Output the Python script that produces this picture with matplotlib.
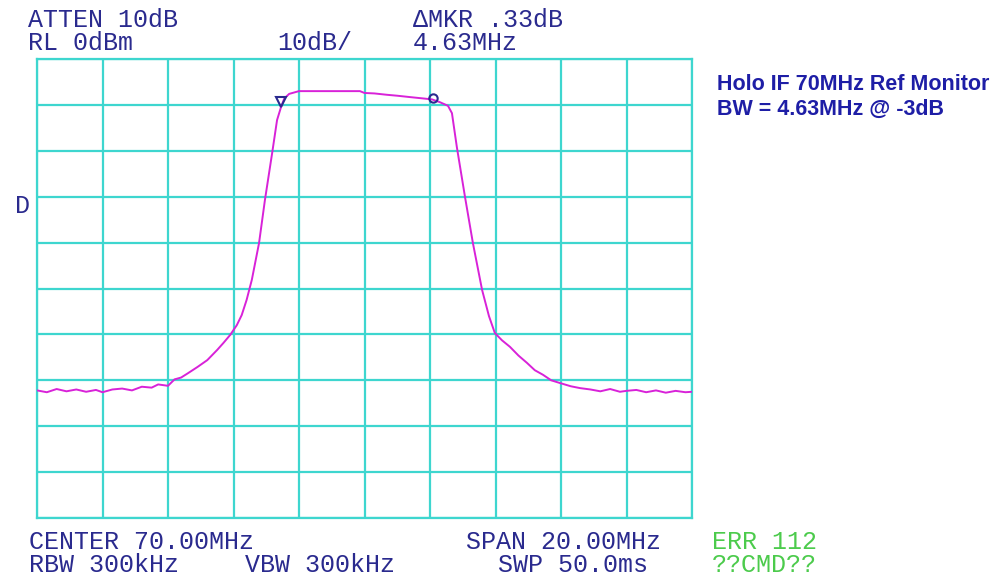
import matplotlib.pyplot as plt

# czestotliwosc [MHz] i poziom [dBm]
freq_MHz = [60.0, 60.3, 60.6, 60.9, 61.2, 61.5, 61.8, 62.0, 62.3, 62.6, 62.9, 63.2, 63.5, 63.7,
            64.0, 64.2, 64.4, 64.6, 64.9, 65.2, 65.5, 65.7, 65.9, 66.1, 66.25, 66.4, 66.56, 66.78,
            66.96, 67.18, 67.33, 67.45, 67.55, 67.7, 68.0, 69.0, 69.86, 70.0, 70.3, 70.69, 71.0,
            71.39, 71.8, 72.06, 72.3, 72.55, 72.67, 72.82, 73.07, 73.31, 73.59, 73.8, 73.98, 74.2,
            74.44, 74.7, 74.96, 75.2, 75.45, 75.7, 75.97, 76.3, 76.58, 76.9, 77.2, 77.5, 77.8,
            78.0, 78.3, 78.6, 78.9, 79.2, 79.5, 79.8, 80.0]
level_dBm = [-72.2, -72.6, -71.9, -72.4, -72.0, -72.5, -72.1, -72.6, -72.0, -71.8, -72.2, -71.4,
             -71.6, -70.9, -71.2, -69.8, -69.4, -68.5, -67.1, -65.6, -63.4, -61.8, -60.1, -58.0,
             -55.8, -52.5, -48.1, -40.1, -30.7, -20.5, -13.3, -10.5, -8.6, -7.6, -7.0, -7.0, -7.0,
             -7.4, -7.5, -7.8, -8.0, -8.3, -8.6, -8.8, -9.4, -10.2, -11.8, -19.2, -30.1, -40.1,
             -50.3, -56.0, -59.7, -61.3, -62.7, -64.6, -66.2, -67.8, -68.8, -70.0, -70.6, -71.3,
             -71.7, -72.0, -72.4, -71.9, -72.5, -72.3, -72.1, -72.6, -72.2, -72.7, -72.3, -72.6,
             -72.5]

# markery -3dB
mkr_freq_MHz = [67.45, 72.08]
mkr_level_dBm = [-9.3, -8.6]

header_top = ['ATTEN 10dB', '\u0394MKR .33dB']
header_bottom = ['RL 0dBm', '10dB/', '4.63MHz']
footer_top = ['CENTER 70.00MHz', 'SPAN 20.00MHz']
footer_bottom = ['RBW 300kHz', 'VBW 300kHz', 'SWP 50.0ms']
status = ['ERR 112', '??CMD??']
note = ['Holo IF 70MHz Ref Monitor', 'BW = 4.63MHz @ -3dB']

W, H = 1007, 577
grid_col = '#3ED6CF'
txt_col = '#2A2A8E'
green = '#4CCB4C'

fig = plt.figure(figsize=(W / 100, H / 100), dpi=100)
ax = fig.add_axes([37 / W, (H - 518) / H, 655 / W, 459 / H])

ax.plot(freq_MHz, level_dBm, color='#D822D8', linewidth=1.4, zorder=3)
ax.plot(mkr_freq_MHz[0], mkr_level_dBm[0], marker='v', markersize=7, markerfacecolor='none',
        markeredgecolor=txt_col, markeredgewidth=1.5, zorder=4)
ax.plot(mkr_freq_MHz[1], mkr_level_dBm[1], marker='o', markersize=6, markerfacecolor='none',
        markeredgecolor=txt_col, markeredgewidth=1.5, zorder=4)

ax.set_xlim(60, 80)
ax.set_ylim(-100, 0)
ax.set_xticks(range(60, 81, 2))
ax.set_yticks(range(-100, 1, 10))
ax.grid(True, color=grid_col, linewidth=1.6)
ax.tick_params(length=0, labelbottom=False, labelleft=False)
for s in ax.spines.values():
    s.set_color(grid_col)
    s.set_linewidth(1.6)


def put(x, y, s, **kw):
    fig.text(x / W, 1 - y / H, s, va='center', ha='left', **kw)


mono = dict(family='Liberation Mono', fontsize=18, color=txt_col)
put(28, 20, header_top[0], **mono)
put(413, 20, header_top[1], **mono)
put(28, 43, header_bottom[0], **mono)
put(277, 43, header_bottom[1], **mono)
put(413, 43, header_bottom[2], **mono)
put(15, 206, 'D', **mono)

put(29, 542, footer_top[0], **mono)
put(466, 542, footer_top[1], **mono)
put(29, 565, footer_bottom[0], **mono)
put(245, 565, footer_bottom[1], **mono)
put(498, 565, footer_bottom[2], **mono)
put(712, 542, status[0], family='Liberation Mono', fontsize=18, color=green)
put(712, 565, status[1], family='Liberation Mono', fontsize=18, color=green)

put(717, 84, note[0], family='Liberation Sans', fontsize=15.5, fontweight='bold', color='#1E1EA6')
put(717, 109, note[1], family='Liberation Sans', fontsize=15.5, fontweight='bold', color='#1E1EA6')

plt.savefig('out.png', dpi=100)
